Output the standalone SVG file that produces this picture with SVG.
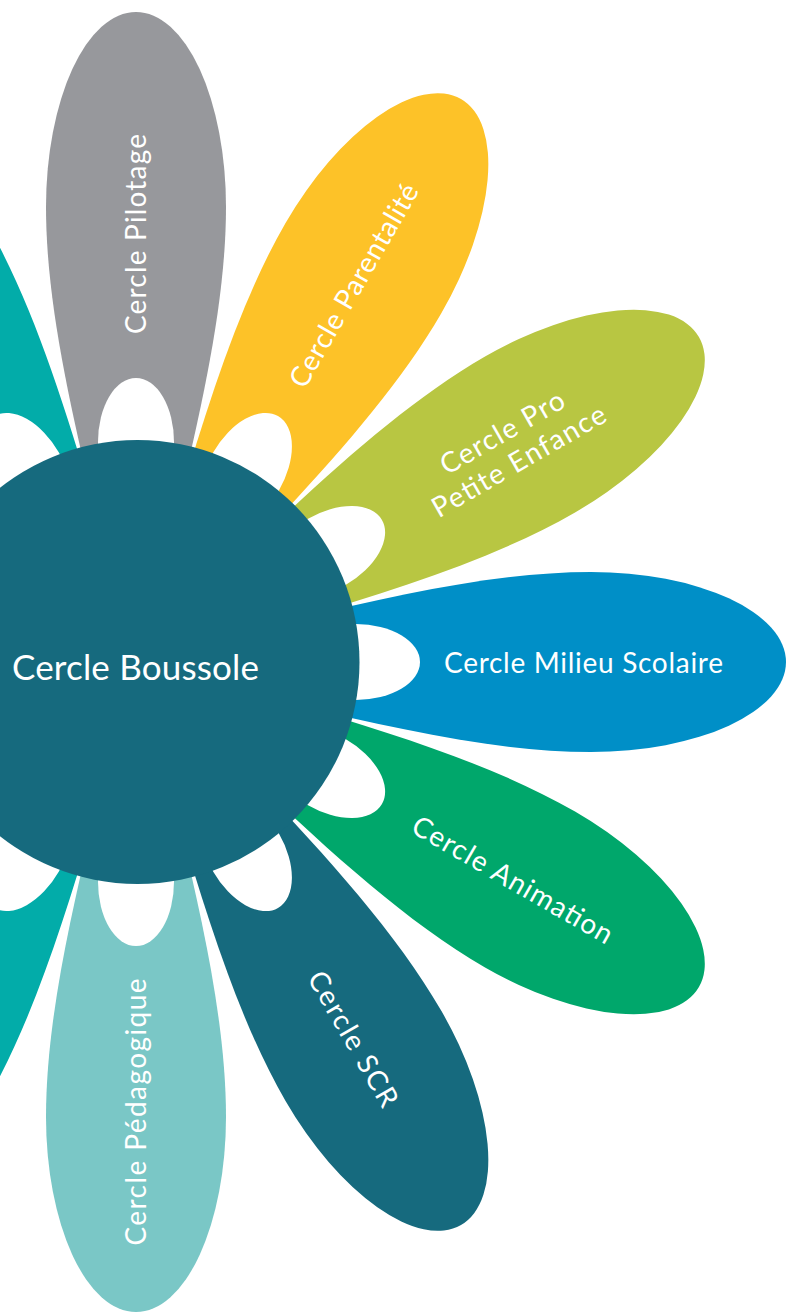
<svg xmlns="http://www.w3.org/2000/svg" xmlns:xlink="http://www.w3.org/1999/xlink" width="787" height="1313" viewBox="0 0 787 1313">
<style>
.lbl{font-family:Lato,"Noto Sans","Liberation Sans",sans-serif;fill:#ffffff;font-size:28px;text-anchor:middle}
.center{font-size:35px}
.hole{fill:#ffffff}
</style>
<defs>
<path id="petal" d="M160,-43 C265,-68 365,-90 455,-90 A195,90 0 0 1 455,90 C365,90 265,68 160,43 Z"/>
<ellipse id="hole" cx="220" cy="0" rx="64" ry="38"/>
</defs>
<rect width="787" height="1313" fill="#ffffff"/>
<g id="connectors"/>
<g id="petal-teal-top" transform="translate(136,662) rotate(-120)">
<use href="#petal" fill="#02ACA9"/><use href="#hole" class="hole"/>
</g>
<g id="petal-teal-bottom" transform="translate(136,662) rotate(120)">
<use href="#petal" fill="#02ACA9"/><use href="#hole" class="hole"/>
</g>
<g id="petal-pilotage">
<g transform="translate(136,662) rotate(-90)"><use href="#petal" fill="#97989C"/><use href="#hole" class="hole"/></g>
<text class="lbl" transform="translate(136,234) rotate(-90)" x="0" y="10" textLength="200" lengthAdjust="spacing">Cercle Pilotage</text>
</g>
<g id="petal-parentalite">
<g transform="translate(136,662) rotate(-60)"><use href="#petal" fill="#FDC228"/><use href="#hole" class="hole"/></g>
<text class="lbl" transform="translate(353.5,285.3) rotate(-60)" x="0" y="10" textLength="230" lengthAdjust="spacing">Cercle Parentalité</text>
</g>
<g id="petal-petite-enfance">
<g transform="translate(136,662) rotate(-30)"><use href="#petal" fill="#B8C642"/><use href="#hole" class="hole"/></g>
<text class="lbl" transform="translate(510.1,446) rotate(-30)"><tspan x="0" y="-6" textLength="139" lengthAdjust="spacing">Cercle Pro</tspan><tspan x="0" y="27" textLength="196" lengthAdjust="spacing">Petite Enfance</tspan></text>
</g>
<g id="petal-milieu-scolaire">
<g transform="translate(136,662)"><use href="#petal" fill="#008FC7"/><use href="#hole" class="hole"/></g>
<text class="lbl" x="583.5" y="673" textLength="279" lengthAdjust="spacing">Cercle Milieu Scolaire</text>
</g>
<g id="petal-animation">
<g transform="translate(136,662) rotate(30)"><use href="#petal" fill="#00A76B"/><use href="#hole" class="hole"/></g>
<text class="lbl" transform="translate(512.7,879.5) rotate(30)" x="0" y="10" textLength="227" lengthAdjust="spacing">Cercle Animation</text>
</g>
<g id="petal-scr">
<g transform="translate(136,662) rotate(60)"><use href="#petal" fill="#166A7E"/><use href="#hole" class="hole"/></g>
<text class="lbl" transform="translate(353.5,1038.7) rotate(60)" x="0" y="10" textLength="152" lengthAdjust="spacing">Cercle SCR</text>
</g>
<g id="petal-pedagogique">
<g transform="translate(136,662) rotate(90)"><use href="#petal" fill="#7AC7C6"/><use href="#hole" class="hole"/></g>
<text class="lbl" transform="translate(136,1112) rotate(-90)" x="0" y="10" textLength="267" lengthAdjust="spacing">Cercle Pédagogique</text>
</g>
<g id="center-boussole">
<circle cx="137.5" cy="662" r="222" fill="#166A7E"/>
<text class="lbl center" x="135.5" y="680" textLength="247" lengthAdjust="spacing">Cercle Boussole</text>
</g>
</svg>
